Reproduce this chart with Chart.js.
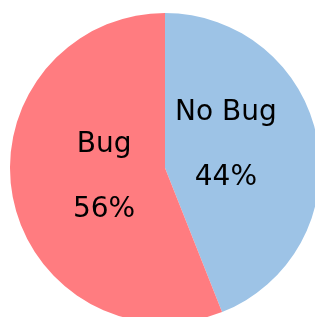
<!DOCTYPE html>
<html>
<head>
  <title>Bug share</title>
  <script src="https://cdn.jsdelivr.net/npm/chart.js@4.4.0/dist/chart.umd.min.js"></script>
  <style>
    html, body { margin: 0; padding: 0; background: #fff; overflow: hidden; }
    #wrap { width: 315px; height: 317px; overflow: hidden; position: relative; }
    #myChart { position: absolute; left: 0; top: 0; }
  </style>
</head>
<body>
<div id="wrap">
  <canvas id="myChart" width="330" height="336"></canvas>
</div>
<script>
const categories = ['No Bug', 'Bug'];
const shares = [44, 56];
const sliceColors = ['#9DC3E6', '#FF7C80'];

// label layout tweaks (vertical nudge per slice, px)
const labelNudge = [-12, -3];

const sliceLabels = {
  id: 'sliceLabels',
  afterDatasetsDraw(chart) {
    const ctx = chart.ctx;
    const meta = chart.getDatasetMeta(0);
    ctx.save();
    ctx.font = '28px "DejaVu Sans"';
    ctx.fillStyle = '#000';
    ctx.textAlign = 'center';
    ctx.textBaseline = 'middle';
    meta.data.forEach(function (arc, i) {
      const p = arc.getProps(['x', 'y', 'startAngle', 'endAngle', 'outerRadius'], true);
      const mid = (p.startAngle + p.endAngle) / 2;
      const r = p.outerRadius * 0.40;
      const cx = p.x + Math.cos(mid) * r;
      const cy = p.y + Math.sin(mid) * r + labelNudge[i];
      ctx.fillText(categories[i], cx, cy - 32);
      ctx.fillText(shares[i] + '%', cx, cy + 33);
    });
    ctx.restore();
  }
};

const ctx = document.getElementById('myChart').getContext('2d');
const myChart = new Chart(ctx, {
  type: 'pie',
  data: {
    labels: categories,
    datasets: [{
      data: shares,
      backgroundColor: sliceColors,
      borderWidth: 0
    }]
  },
  options: {
    responsive: false,
    animation: false,
    layout: { padding: { left: 10, right: 10, top: 13, bottom: 13 } },
    plugins: {
      legend: { display: false },
      tooltip: { enabled: false }
    }
  },
  plugins: [sliceLabels]
});
</script>
</body>
</html>
